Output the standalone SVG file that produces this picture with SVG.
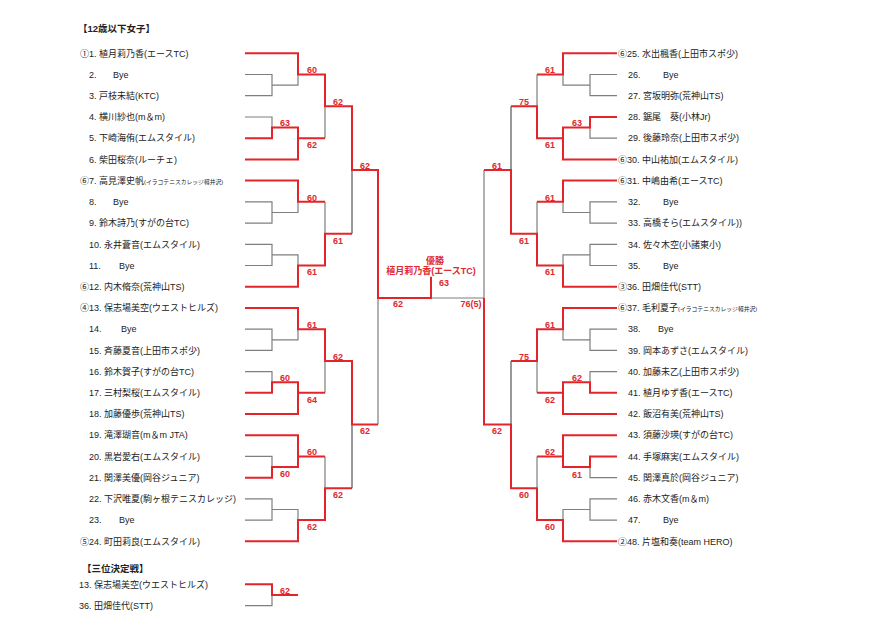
<svg xmlns="http://www.w3.org/2000/svg" width="890" height="628" viewBox="0 0 890 628">
<style>
text{font-family:"Liberation Sans","Noto Sans CJK JP",sans-serif;font-size:9px;fill:#222}
.h{font-weight:bold;font-size:9.5px}
.sm{font-size:5.8px}
.s{fill:#e0282e;font-weight:bold;text-anchor:middle;font-size:9px}
.c{text-anchor:end}
.r{fill:none;stroke:#e3242b;stroke-width:2}
.g{fill:none;stroke:#7f7f7f;stroke-width:1.2}
.k{fill:none;stroke:#333;stroke-width:1}
</style>
<rect width="890" height="628" fill="#fff"/>
<text class="h" x="78" y="31.5">【12歳以下女子】</text>
<text class="h" x="82" y="572">【三位決定戦】</text>

<g id="connectors">
<path class="g" d="M245,74.5H272V95.7H245M272,85.1H298V74.5M245,117H272V127.6M325,106.3V138.2M245,201.8H272V223.1H245M272,212.5H298V201.8M245,244.3H272V265.5H245M272,254.9H298V265.5M325,201.8V233.7M245,329.2H272V350.4H245M272,339.8H298V329.2M245,371.6H272V382.2M325,361V392.8M245,456.4H272V467.1M245,498.9H272V520.1H245M272,509.5H298V520.1M325,456.4V488.3M378,298V424.6M431,298H484M245,605.7H272V595"/>
<path class="g" d="M617,74.5H590V95.7H617M590,85.1H563V74.5M617,138.2H590V127.6M537,74.5V106.3M617,201.8H590V223.1H617M590,212.5H563V201.8M617,244.3H590V265.5H617M590,254.9H563V265.5M537,201.8V233.7M617,329.2H590V350.4H617M590,339.8H563V329.2M617,371.6H590V382.2M537,361V392.8M617,477.7H590V467.1M617,498.9H590V520.1H617M590,509.5H563V520.1M537,456.4V488.3M484,170V298"/>
<path class="k" d="M352,170V233.7M352,424.6V488.3M511,106.3V170M511,361V424.6"/>
<path class="r" d="M245,53.3H298V74.5H325V106.3H352V170H378V298H431V276.7"/>
<path class="r" d="M245,138.2H272V127.6H298V159.4H245M298,138.2H325"/>
<path class="r" d="M245,180.6H298V201.8H325"/>
<path class="r" d="M245,286.7H298V265.5H325V233.7H352"/>
<path class="r" d="M245,307.9H298V329.2H325V361H352V424.6H378"/>
<path class="r" d="M245,392.8H272V382.2H298V414H245M298,392.8H325"/>
<path class="r" d="M245,435.2H298V467.1H272V477.7H245M298,456.4H325"/>
<path class="r" d="M245,541.3H298V520.1H325V488.3H352"/>
<path class="r" d="M245,584.3H272V595H298"/>
<path class="r" d="M617,53.3H563V74.5H537"/>
<path class="r" d="M617,117H590V127.6H563V159.4H617M563,138.2H537V106.3H511"/>
<path class="r" d="M484,170H511V233.7H537V265.5H563V286.7H617"/>
<path class="r" d="M617,180.6H563V201.8H537"/>
<path class="r" d="M617,307.9H563V329.2H537V361H511"/>
<path class="r" d="M617,392.8H590V382.2H563V414H617M563,392.8H537"/>
<path class="r" d="M484,298V424.6H511V488.3H537V520.1H563V541.3H617"/>
<path class="r" d="M617,435.2H563V467.1H590V456.4H617M563,456.4H537"/>
</g>

<g id="scores">
<text class="s" x="312" y="73">60</text>
<text class="s" x="285" y="126.3">63</text>
<text class="s" x="312" y="148.2">62</text>
<text class="s" x="338" y="105">62</text>
<text class="s" x="365" y="169">62</text>
<text class="s" x="312" y="200.5">60</text>
<text class="s" x="312" y="275.2">61</text>
<text class="s" x="338" y="243.5">61</text>
<text class="s" x="312" y="328">61</text>
<text class="s" x="285" y="380.5">60</text>
<text class="s" x="312" y="402.7">64</text>
<text class="s" x="338" y="359.8">62</text>
<text class="s" x="365" y="434.3">62</text>
<text class="s" x="312" y="455">60</text>
<text class="s" x="285" y="476.8">60</text>
<text class="s" x="312" y="530">62</text>
<text class="s" x="338" y="498.2">62</text>
<text class="s" x="398" y="306.8">62</text>
<text class="s" x="444" y="285.8">63</text>
<text class="s" x="471" y="306.8">76(5)</text>
<text class="s" x="285" y="593.5">62</text>
<text class="s" x="550" y="73">61</text>
<text class="s" x="577" y="126.3">63</text>
<text class="s" x="550" y="148.2">61</text>
<text class="s" x="524" y="105">75</text>
<text class="s" x="497" y="169">61</text>
<text class="s" x="550" y="200.5">61</text>
<text class="s" x="524" y="243.5">61</text>
<text class="s" x="550" y="275.2">61</text>
<text class="s" x="550" y="328">61</text>
<text class="s" x="524" y="359.8">75</text>
<text class="s" x="577" y="380.5">62</text>
<text class="s" x="550" y="402.7">62</text>
<text class="s" x="497" y="434.3">62</text>
<text class="s" x="550" y="455">62</text>
<text class="s" x="577" y="477.5">61</text>
<text class="s" x="524" y="498.2">60</text>
<text class="s" x="550" y="530">60</text>
</g>

<g id="champion">
<text class="s" x="435" y="264">優勝</text>
<text class="s" x="431" y="274">植月莉乃香(エースTC)</text>
</g>

<g id="p1"><text class="c" x="89" y="56.5">①</text><text x="89" y="56.5">1. 植月莉乃香(エースTC)</text></g>
<g id="p2"><text x="89" y="77.7">2.</text><text x="113" y="77.7">Bye</text></g>
<g id="p3"><text x="89" y="98.9">3. 戸枝未結(KTC)</text></g>
<g id="p4"><text x="89" y="120.2">4. 横川紗也(m＆m)</text></g>
<g id="p5"><text x="89" y="141.4">5. 下崎海侑(エムスタイル)</text></g>
<g id="p6"><text x="89" y="162.6">6. 柴田桜奈(ルーチェ)</text></g>
<g id="p7"><text class="c" x="89" y="183.8">⑥</text><text x="89" y="183.8">7. 高見澤史帆<tspan class="sm">(イラコテニスカレッジ軽井沢)</tspan></text></g>
<g id="p8"><text x="89" y="205">8.</text><text x="113" y="205">Bye</text></g>
<g id="p9"><text x="89" y="226.3">9. 鈴木詩乃(すがの台TC)</text></g>
<g id="p10"><text x="89" y="247.5">10. 永井蒼音(エムスタイル)</text></g>
<g id="p11"><text x="89" y="268.7">11.</text><text x="119" y="268.7">Bye</text></g>
<g id="p12"><text class="c" x="89" y="289.9">⑥</text><text x="89" y="289.9">12. 内木脩奈(荒神山TS)</text></g>
<g id="p13"><text class="c" x="89" y="311.1">④</text><text x="89" y="311.1">13. 保志場美空(ウエストヒルズ)</text></g>
<g id="p14"><text x="89" y="332.4">14.</text><text x="121" y="332.4">Bye</text></g>
<g id="p15"><text x="89" y="353.6">15. 斉藤夏音(上田市スポ少)</text></g>
<g id="p16"><text x="89" y="374.8">16. 鈴木賀子(すがの台TC)</text></g>
<g id="p17"><text x="89" y="396">17. 三村梨桜(エムスタイル)</text></g>
<g id="p18"><text x="89" y="417.2">18. 加藤優歩(荒神山TS)</text></g>
<g id="p19"><text x="89" y="438.4">19. 滝澤瑚音(m＆m JTA)</text></g>
<g id="p20"><text x="89" y="459.6">20. 黒岩愛右(エムスタイル)</text></g>
<g id="p21"><text x="89" y="480.9">21. 関澤美優(岡谷ジュニア)</text></g>
<g id="p22"><text x="89" y="502.1">22. 下沢唯夏(駒ヶ根テニスカレッジ)</text></g>
<g id="p23"><text x="89" y="523.3">23.</text><text x="119" y="523.3">Bye</text></g>
<g id="p24"><text class="c" x="89" y="544.5">⑤</text><text x="89" y="544.5">24. 町田莉良(エムスタイル)</text></g>

<g id="p25"><text x="618" y="56.5">⑥25. 水出楓香(上田市スポ少)</text></g>
<g id="p26"><text x="628" y="77.7">26.</text><text x="663" y="77.7">Bye</text></g>
<g id="p27"><text x="628" y="98.9">27. 宮坂明弥(荒神山TS)</text></g>
<g id="p28"><text x="628" y="120.2">28. 鋸尾　葵(小林Jr)</text></g>
<g id="p29"><text x="628" y="141.4">29. 後藤玲奈(上田市スポ少)</text></g>
<g id="p30"><text x="618" y="162.6">⑥30. 中山祐加(エムスタイル)</text></g>
<g id="p31"><text x="618" y="183.8">⑥31. 中嶋由希(エースTC)</text></g>
<g id="p32"><text x="628" y="205">32.</text><text x="663" y="205">Bye</text></g>
<g id="p33"><text x="628" y="226.3">33. 高橋そら(エムスタイル))</text></g>
<g id="p34"><text x="628" y="247.5">34. 佐々木空(小諸東小)</text></g>
<g id="p35"><text x="628" y="268.7">35.</text><text x="663" y="268.7">Bye</text></g>
<g id="p36"><text x="618" y="289.9">③36. 田畑佳代(STT)</text></g>
<g id="p37"><text x="618" y="311.1">⑥37. 毛利夏子<tspan class="sm">(イラコテニスカレッジ軽井沢)</tspan></text></g>
<g id="p38"><text x="628" y="332.4">38.</text><text x="658" y="332.4">Bye</text></g>
<g id="p39"><text x="628" y="353.6">39. 岡本あずさ(エムスタイル)</text></g>
<g id="p40"><text x="628" y="374.8">40. 加藤未乙(上田市スポ少)</text></g>
<g id="p41"><text x="628" y="396">41. 植月ゆず香(エースTC)</text></g>
<g id="p42"><text x="628" y="417.2">42. 飯沼有美(荒神山TS)</text></g>
<g id="p43"><text x="628" y="438.4">43. 須藤沙瑛(すがの台TC)</text></g>
<g id="p44"><text x="628" y="459.6">44. 手塚麻実(エムスタイル)</text></g>
<g id="p45"><text x="628" y="480.9">45. 関澤真於(岡谷ジュニア)</text></g>
<g id="p46"><text x="628" y="502.1">46. 赤木文香(m＆m)</text></g>
<g id="p47"><text x="628" y="523.3">47.</text><text x="663" y="523.3">Bye</text></g>
<g id="p48"><text x="618" y="544.5">②48. 片塩和奏(team HERO)</text></g>

<g id="third13"><text x="79" y="587.5">13. 保志場美空(ウエストヒルズ)</text></g>
<g id="third36"><text x="79" y="609">36. 田畑佳代(STT)</text></g>
</svg>
